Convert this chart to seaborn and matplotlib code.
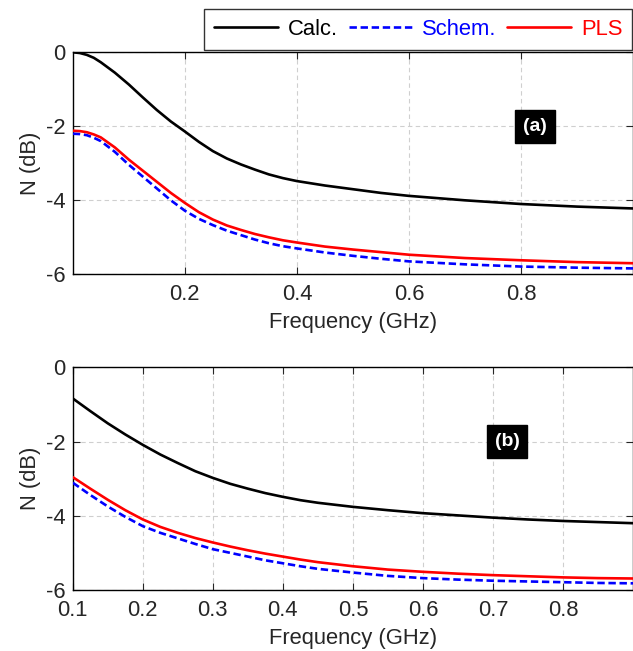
import numpy as np
import pandas as pd
import matplotlib
matplotlib.use("Agg")
import matplotlib.pyplot as plt
import seaborn as sns
from matplotlib.lines import Line2D

# ---------------- data ----------------
freq_a = [0.0, 0.0125, 0.025, 0.0375, 0.05, 0.075, 0.1, 0.125, 0.15, 0.175,
          0.2, 0.225, 0.25, 0.275, 0.3, 0.325, 0.35, 0.375, 0.4, 0.45, 0.5,
          0.55, 0.6, 0.7, 0.8, 0.9, 1.0]
calc_a = [0.0, -0.02, -0.07, -0.15, -0.27, -0.55, -0.87, -1.22, -1.56, -1.87,
          -2.14, -2.42, -2.67, -2.87, -3.03, -3.17, -3.3, -3.4, -3.48, -3.6,
          -3.7, -3.8, -3.88, -4.0, -4.1, -4.17, -4.22]
schem_a = [-2.2, -2.21, -2.24, -2.31, -2.4, -2.69, -3.04, -3.36, -3.68, -4.0,
           -4.28, -4.5, -4.67, -4.82, -4.94, -5.06, -5.16, -5.24, -5.3, -5.41,
           -5.5, -5.58, -5.65, -5.73, -5.79, -5.82, -5.84]
pls_a = [-2.12, -2.13, -2.16, -2.22, -2.3, -2.57, -2.9, -3.2, -3.5, -3.8,
         -4.07, -4.32, -4.52, -4.68, -4.8, -4.91, -5.0, -5.08, -5.14, -5.25,
         -5.33, -5.4, -5.47, -5.56, -5.62, -5.67, -5.7]

freq_b = [0.1, 0.125, 0.15, 0.175, 0.2, 0.225, 0.25, 0.275, 0.3, 0.325, 0.35,
          0.375, 0.4, 0.425, 0.45, 0.5, 0.55, 0.6, 0.65, 0.7, 0.75, 0.8,
          0.85, 0.9]
calc_b = [-0.84, -1.18, -1.51, -1.81, -2.09, -2.35, -2.58, -2.8, -2.98,
          -3.14, -3.27, -3.39, -3.49, -3.58, -3.65, -3.76, -3.85, -3.93,
          -3.99, -4.05, -4.1, -4.14, -4.17, -4.2]
schem_b = [-3.11, -3.44, -3.75, -4.03, -4.28, -4.46, -4.61, -4.76, -4.9,
           -5.0, -5.1, -5.2, -5.28, -5.36, -5.43, -5.53, -5.62, -5.68, -5.72,
           -5.75, -5.77, -5.79, -5.81, -5.82]
pls_b = [-2.96, -3.27, -3.57, -3.85, -4.1, -4.3, -4.46, -4.6, -4.72, -4.83,
         -4.93, -5.02, -5.1, -5.18, -5.25, -5.36, -5.45, -5.51, -5.56, -5.6,
         -5.63, -5.66, -5.68, -5.69]

series_names = ["Calc.", "Schem.", "PLS"]
xticks_a = [0.2, 0.4, 0.6, 0.8]
xticks_b = [0.1, 0.2, 0.3, 0.4, 0.5, 0.6, 0.7, 0.8]
yticks = [0, -2, -4, -6]
panel_labels = ["(a)", "(b)"]

# ---------------- style ----------------
sns.set_style("ticks")
plt.rcParams["font.family"] = ["Liberation Sans", "DejaVu Sans"]
plt.rcParams["axes.unicode_minus"] = False
FS = 15.8

colors = {"Calc.": "black", "Schem.": "#0000ff", "PLS": "#ff0000"}
dashes = {"Calc.": "", "Schem.": (2.8, 1.4), "PLS": ""}

fig = plt.figure(figsize=(6.33, 6.51), dpi=100)
ax_a = fig.add_axes([0.115, 0.5786, 0.885, 0.3411])
ax_b = fig.add_axes([0.115, 0.0937, 0.885, 0.3421])


def build(freq, calc, schem, pls):
    frames = []
    for name, vals in zip(series_names, [calc, schem, pls]):
        frames.append(pd.DataFrame({"f": freq, "N": vals, "s": name}))
    return pd.concat(frames, ignore_index=True)


df_a = build(freq_a, calc_a, schem_a, pls_a)
df_b = build(freq_b, calc_b, schem_b, pls_b)

for ax, df, xlim, xt, lab, lab_xy in [
    (ax_a, df_a, (0.0, 1.0), xticks_a, panel_labels[0], (0.825, -2.0)),
    (ax_b, df_b, (0.1, 0.9), xticks_b, panel_labels[1], (0.72, -2.0)),
]:
    sns.lineplot(data=df, x="f", y="N", hue="s", style="s",
                 hue_order=series_names, style_order=series_names,
                 palette=colors, dashes=dashes, linewidth=1.9,
                 ax=ax, legend=False, zorder=3)
    ax.set_xlim(*xlim)
    ax.set_ylim(-6, 0)
    ax.set_xticks(xt)
    ax.set_xticklabels([f"{v:g}" for v in xt])
    ax.set_yticks(yticks)
    ax.set_yticklabels([f"{v:g}" for v in yticks])
    ax.grid(True, color="#cfcfcf", linestyle=(0, (4, 3)), linewidth=0.8)
    ax.set_axisbelow(True)
    ax.tick_params(direction="in", top=True, right=True, length=5,
                   width=0.8, labelsize=FS)
    ax.tick_params(axis="x", pad=7)
    ax.tick_params(axis="y", pad=5)
    for sp in ax.spines.values():
        sp.set_linewidth(1.0)
        sp.set_color("black")
    ax.set_xlabel("Frequency (GHz)", fontsize=FS, labelpad=5)
    ax.set_ylabel("N (dB)", fontsize=FS, labelpad=4)
    ax.text(lab_xy[0], lab_xy[1], lab, color="white", fontsize=14,
            fontweight="bold", ha="center", va="center", zorder=5,
            bbox=dict(boxstyle="square,pad=0.4", fc="black", ec="black"))

# legend
handles = [Line2D([], [], color=colors[n], lw=1.9,
                  linestyle=(0, dashes[n]) if dashes[n] else "-")
           for n in series_names]
leg = fig.legend(handles, series_names, loc="upper right",
                 bbox_to_anchor=(0.999, 0.986), ncol=3, fontsize=FS,
                 frameon=True, fancybox=False, edgecolor="black",
                 handlelength=2.9, handletextpad=0.45, columnspacing=0.5,
                 borderpad=0.45, borderaxespad=0.0)
leg.get_frame().set_linewidth(1.0)
for t, n in zip(leg.get_texts(), series_names):
    t.set_color(colors[n])

fig.savefig("out.png", dpi=100)
